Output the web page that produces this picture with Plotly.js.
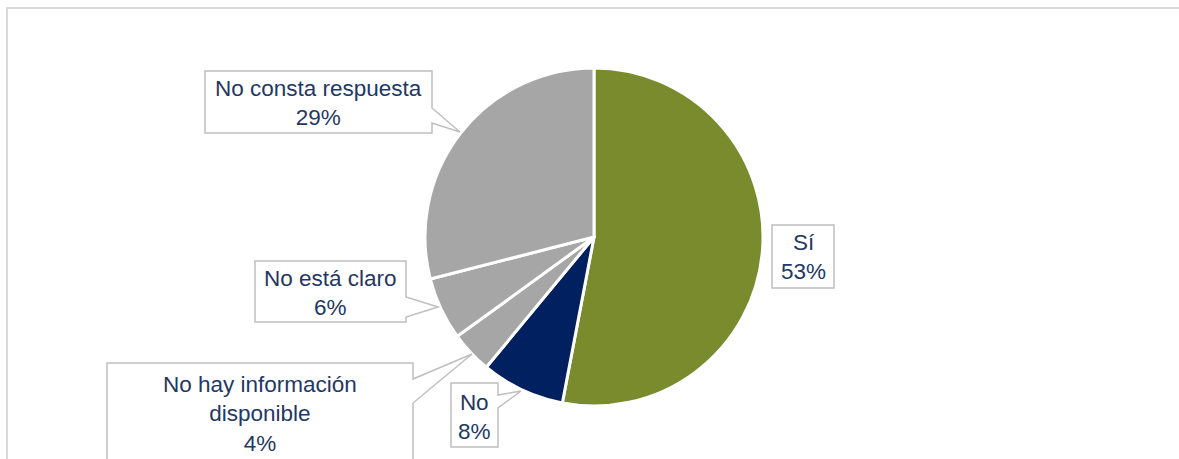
<!DOCTYPE html>
<html>
<head>
<meta charset="utf-8">
<script src="https://cdn.plot.ly/plotly-3.0.1.min.js"></script>
<style>html,body{margin:0;padding:0;background:#fff;}#chart{width:1179px;height:459px;}</style>
</head>
<body>
<div id="chart"></div>
<script>
// ---- data ----
const categories = ["Sí", "No", "No hay información disponible", "No está claro", "No consta respuesta"];
const percentages = [53, 8, 4, 6, 29];
const sliceColors = ["#7a8b2e", "#002060", "#a6a6a6", "#a6a6a6", "#a6a6a6"];

// ---- layout helpers (pixel -> paper) ----
const W = 1179, H = 459;
const px = x => x / W;
const py = y => 1 - y / H;

// callout geometry (pixels): box [l,t,r,b], notch on right side [y1, tipX, tipY, y2] or null, text center and wrap
const callouts = [
  {box: [772, 225, 834, 288], notch: null, cx: 803, cy: 257, wrap: "Sí"},
  {box: [451, 383, 498, 447], notch: [395, 521, 391, 408], cx: 474.5, cy: 417, wrap: "No"},
  {box: [107, 363, 413, 470], notch: [379, 472, 354, 403], cx: 260, cy: 414, wrap: "No hay información<br>disponible"},
  {box: [255, 261, 406, 322], notch: [297, 438, 307, 317], cx: 330.5, cy: 293, wrap: "No está claro"},
  {box: [205, 71, 432, 133], notch: [108, 460, 132, 123], cx: 318.5, cy: 103, wrap: "No consta respuesta"}
];

const shapes = [
  {type: "line", xref: "paper", yref: "paper", x0: px(6), x1: px(W), y0: py(8), y1: py(8), line: {color: "#d9d9d9", width: 2}},
  {type: "line", xref: "paper", yref: "paper", x0: px(7), x1: px(7), y0: py(8), y1: py(H + 2), line: {color: "#d9d9d9", width: 2}}
];
const annotations = [];
callouts.forEach((c, i) => {
  const [l, t, r, b] = c.box;
  let d;
  if (c.notch) {
    const [y1, tx, ty, y2] = c.notch;
    d = `M ${px(l)},${py(t)} L ${px(r)},${py(t)} L ${px(r)},${py(y1)} L ${px(tx)},${py(ty)} L ${px(r)},${py(y2)} L ${px(r)},${py(b)} L ${px(l)},${py(b)} Z`;
  } else {
    d = `M ${px(l)},${py(t)} L ${px(r)},${py(t)} L ${px(r)},${py(b)} L ${px(l)},${py(b)} Z`;
  }
  shapes.push({type: "path", xref: "paper", yref: "paper", path: d, fillcolor: "#ffffff", line: {color: "#bfbfbf", width: 1.5}});
  annotations.push({
    xref: "paper", yref: "paper", x: px(c.cx), y: py(c.cy), xanchor: "center", yanchor: "middle",
    text: c.wrap + "<br>" + percentages[i] + "%", showarrow: false, align: "center",
    font: {family: "Liberation Sans, Arial, sans-serif", size: 22.5, color: "#1f3864"}
  });
});

const cx = 594, cy = 237, R = 169;
const trace = {
  type: "pie",
  labels: categories,
  values: percentages,
  sort: false,
  direction: "clockwise",
  rotation: 0,
  textinfo: "none",
  hoverinfo: "label+percent",
  marker: {colors: sliceColors, line: {color: "#ffffff", width: 3}},
  domain: {x: [px(cx - R), px(cx + R)], y: [py(cy + R), py(cy - R)]},
  showlegend: false
};

Plotly.newPlot("chart", [trace], {
  width: W, height: H,
  margin: {l: 0, r: 0, t: 0, b: 0},
  paper_bgcolor: "#ffffff",
  showlegend: false,
  shapes: shapes,
  annotations: annotations
}, {displayModeBar: false, staticPlot: true});
</script>
</body>
</html>
